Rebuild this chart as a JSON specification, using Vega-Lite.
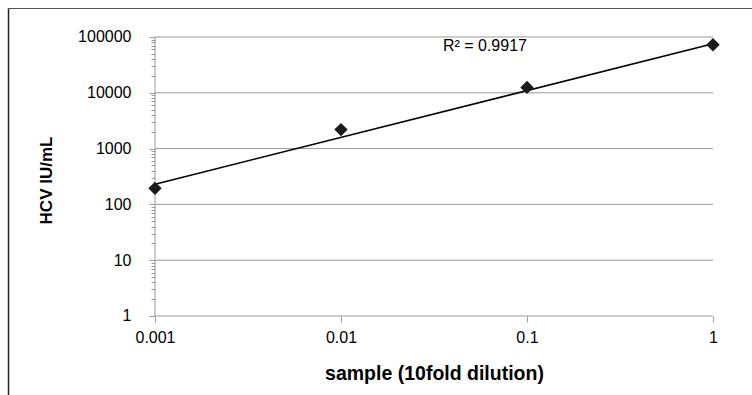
{
  "$schema": "https://vega.github.io/schema/vega-lite/v6.json",
  "width": 744,
  "height": 387,
  "autosize": {"type": "none"},
  "padding": {"left": 8, "top": 8, "right": 0, "bottom": 0},
  "background": "white",
  "config": {
    "view": {"stroke": null},
    "axis": {"grid": false, "labelFont": "Liberation Sans", "titleFont": "Liberation Sans", "labelColor": "#000", "titleColor": "#000", "labelFlush": false, "labelOverlap": false}
  },
  "datasets": {
    "points": [
      {"dilution": 0.001, "iu": 194},
      {"dilution": 0.01, "iu": 2190},
      {"dilution": 0.1, "iu": 12500},
      {"dilution": 1, "iu": 72400}
    ],
    "trend": [
      {"dilution": 0.001, "iu": 230},
      {"dilution": 1, "iu": 75500}
    ],
    "grid": [{"v": 1}, {"v": 10}, {"v": 100}, {"v": 1000}, {"v": 10000}, {"v": 100000}],
    "label": [{"dilution": 0.0353, "iu": 69000, "text": "R² = 0.9917"}],
    "one": [{"a": 1}]
  },
  "resolve": {"axis": {"x": "independent", "y": "independent"}},
  "layer": [
    {
      "data": {"name": "grid"},
      "mark": {"type": "rule", "color": "#9a9a9a", "strokeWidth": 1},
      "encoding": {
        "x": {"datum": 0.001, "type": "quantitative", "scale": {"type": "log", "domain": [0.00016207, 1.6207], "nice": false, "zero": false},
              "axis": {"orient": "top", "offset": 0, "ticks": false, "labels": false, "title": null, "domain": true, "domainColor": "#555", "domainWidth": 1}},
        "x2": {"datum": 1},
        "y": {"field": "v", "type": "quantitative", "scale": {"type": "log", "domain": [0.03838, 330900], "nice": false, "zero": false},
              "axis": {"orient": "left", "offset": 0, "ticks": false, "labels": false, "title": null, "domain": true, "domainColor": "#222", "domainWidth": 1.5}}
      }
    },
    {
      "data": {"name": "one"},
      "mark": {"type": "rule", "color": "#9a9a9a", "strokeWidth": 1},
      "encoding": {
        "x": {"datum": 0.001, "type": "quantitative", "axis": null},
        "y": {"datum": 1, "type": "quantitative",
              "axis": {"orient": "left", "offset": -147, "values": [2,3,4,5,6,7,8,9,20,30,40,50,60,70,80,90,200,300,400,500,600,700,800,900,2000,3000,4000,5000,6000,7000,8000,9000,20000,30000,40000,50000,60000,70000,80000,90000], "tickSize": 4, "tickColor": "#9a9a9a", "labels": false, "domain": false, "title": null}},
        "y2": {"datum": 100000}
      }
    },
    {
      "data": {"name": "trend"},
      "mark": {"type": "line", "color": "#000", "strokeWidth": 1.5},
      "encoding": {
        "x": {"field": "dilution", "type": "quantitative", "axis": null},
        "y": {"field": "iu", "type": "quantitative", "axis": null}
      }
    },
    {
      "data": {"name": "points"},
      "mark": {"type": "point", "shape": "diamond", "filled": true, "size": 180, "color": "#1a1a1a", "opacity": 1},
      "encoding": {
        "x": {"field": "dilution", "type": "quantitative",
              "axis": {"orient": "bottom", "offset": -79, "values": [0.001, 0.01, 0.1, 1], "format": "~g", "tickSize": 6, "tickColor": "#9a9a9a", "labelPadding": 7, "labelFontSize": 16, "domain": false,
                       "title": "sample (10fold dilution)", "titleFontSize": 19.5, "titleFontWeight": "bold", "titlePadding": 19, "titleX": 426}},
        "y": {"field": "iu", "type": "quantitative",
              "axis": {"orient": "left", "offset": -147, "values": [1, 10, 100, 1000, 10000, 100000], "format": "d", "tickSize": 6, "tickColor": "#9a9a9a", "labelPadding": 18, "labelFontSize": 16, "domain": false,
                       "title": "HCV IU/mL", "titleFontSize": 17, "titleFontWeight": "bold", "titlePadding": 22, "titleY": 172}}
      }
    },
    {
      "data": {"name": "label"},
      "mark": {"type": "text", "align": "left", "baseline": "middle", "font": "Liberation Sans", "fontSize": 16, "color": "#000"},
      "encoding": {
        "x": {"field": "dilution", "type": "quantitative", "axis": null},
        "y": {"field": "iu", "type": "quantitative", "axis": null},
        "text": {"field": "text"}
      }
    }
  ]
}
